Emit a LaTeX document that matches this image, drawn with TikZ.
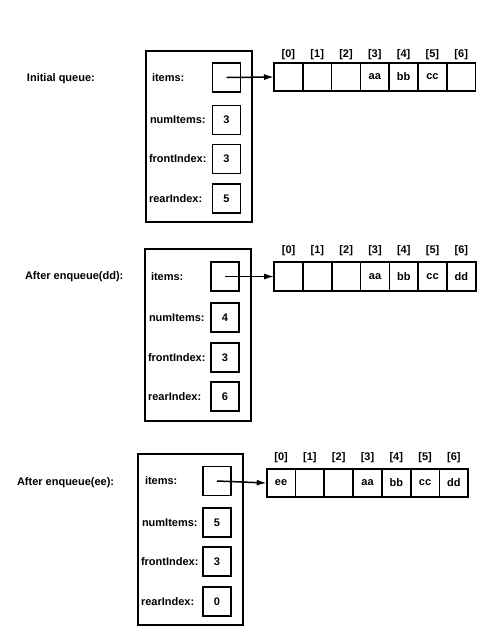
\documentclass[tikz,border=0pt]{standalone}
\usepackage{fontspec}
\setmainfont{Liberation Sans}
\usetikzlibrary{positioning,arrows.meta}
\begin{document}
\begin{tikzpicture}[x=1pt,y=1pt]
		\tikzstyle{every node}+=[inner sep=0pt, outer sep=0pt, font=\bfseries\fontsize{11}{13}\selectfont]
		\tikzstyle{frame}=[draw, line width=1.9pt]
		\tikzstyle{field}=[draw, line width=1.7pt, minimum width=28pt, minimum height=29pt]
		\tikzstyle{cell}=[draw, line width=1.7pt, minimum width=28.8pt, minimum height=28.5pt]
		\tikzstyle{ptr}=[line width=1.5pt, -{Latex[length=10pt,width=6pt]}]
		\useasboundingbox (0,0) rectangle (496,-641);
		% initial queue
		\node [anchor=west] (q1title) at (27,-79) {Initial queue:};
		\node [frame, minimum width=106pt, minimum height=171pt] (q1frame) at (199,-136.5) {};
		\node [field] (q1items) at (226.5,-77.5) {};
		\node [field] (q1num) at (226.5,-120) {3};
		\node [field] (q1front) at (226.5,-159) {3};
		\node [field] (q1rear) at (226.5,-198.5) {5};
		\node [anchor=west] (q1itemsl) at (152,-77.5) {items:};
		\node [anchor=west] (q1numl) at (150,-120) {numItems:};
		\node [anchor=west] (q1frontl) at (149,-159) {frontIndex:};
		\node [anchor=west] (q1rearl) at (149,-198.5) {rearIndex:};
		\node [cell] (q1c0) at (288.4,-77) {};
		\node [cell, right=0pt of q1c0] (q1c1) {};
		\node [cell, right=0pt of q1c1] (q1c2) {};
		\node [cell, right=0pt of q1c2] (q1c3) {aa};
		\node [cell, right=0pt of q1c3] (q1c4) {bb};
		\node [cell, right=0pt of q1c4] (q1c5) {cc};
		\node [cell, right=0pt of q1c5] (q1c6) {};
		\node [above=3pt of q1c0] (q1i0) {[0]};
		\node [above=3pt of q1c1] (q1i1) {[1]};
		\node [above=3pt of q1c2] (q1i2) {[2]};
		\node [above=3pt of q1c3] (q1i3) {[3]};
		\node [above=3pt of q1c4] (q1i4) {[4]};
		\node [above=3pt of q1c5] (q1i5) {[5]};
		\node [above=3pt of q1c6] (q1i6) {[6]};
		\draw [ptr] (q1items.center) -- (q1c0.west);
		% after enqueue(dd)
		\node [anchor=west] (q2title) at (25,-277) {After enqueue(dd):};
		\node [frame, minimum width=106pt, minimum height=172pt] (q2frame) at (198,-335) {};
		\node [field] (q2items) at (225,-276.5) {};
		\node [field] (q2num) at (225,-317.5) {4};
		\node [field] (q2front) at (225,-357.5) {3};
		\node [field] (q2rear) at (225,-396.5) {6};
		\node [anchor=west] (q2itemsl) at (151,-276.5) {items:};
		\node [anchor=west] (q2numl) at (149,-317.5) {numItems:};
		\node [anchor=west] (q2frontl) at (148,-357.5) {frontIndex:};
		\node [anchor=west] (q2rearl) at (148,-396.5) {rearIndex:};
		\node [cell] (q2c0) at (288.6,-276.5) {};
		\node [cell, right=0pt of q2c0] (q2c1) {};
		\node [cell, right=0pt of q2c1] (q2c2) {};
		\node [cell, right=0pt of q2c2] (q2c3) {aa};
		\node [cell, right=0pt of q2c3] (q2c4) {bb};
		\node [cell, right=0pt of q2c4] (q2c5) {cc};
		\node [cell, right=0pt of q2c5] (q2c6) {dd};
		\node [above=6pt of q2c0] (q2i0) {[0]};
		\node [above=6pt of q2c1] (q2i1) {[1]};
		\node [above=6pt of q2c2] (q2i2) {[2]};
		\node [above=6pt of q2c3] (q2i3) {[3]};
		\node [above=6pt of q2c4] (q2i4) {[4]};
		\node [above=6pt of q2c5] (q2i5) {[5]};
		\node [above=6pt of q2c6] (q2i6) {[6]};
		\draw [ptr] (q2items.center) -- (q2c0.west);
		% after enqueue(ee)
		\node [anchor=west] (q3title) at (17,-483) {After enqueue(ee):};
		\node [frame, minimum width=105pt, minimum height=171pt] (q3frame) at (190.5,-539.5) {};
		\node [field] (q3items) at (217,-481) {};
		\node [field] (q3num) at (217,-522.5) {5};
		\node [field] (q3front) at (217,-561.5) {3};
		\node [field] (q3rear) at (217,-601.5) {0};
		\node [anchor=west] (q3itemsl) at (145,-481) {items:};
		\node [anchor=west] (q3numl) at (142,-522.5) {numItems:};
		\node [anchor=west] (q3frontl) at (141,-561.5) {frontIndex:};
		\node [anchor=west] (q3rearl) at (141,-601.5) {rearIndex:};
		\node [cell] (q3c0) at (281.1,-483) {ee};
		\node [cell, right=0pt of q3c0] (q3c1) {};
		\node [cell, right=0pt of q3c1] (q3c2) {};
		\node [cell, right=0pt of q3c2] (q3c3) {aa};
		\node [cell, right=0pt of q3c3] (q3c4) {bb};
		\node [cell, right=0pt of q3c4] (q3c5) {cc};
		\node [cell, right=0pt of q3c5] (q3c6) {dd};
		\node [above=6pt of q3c0] (q3i0) {[0]};
		\node [above=6pt of q3c1] (q3i1) {[1]};
		\node [above=6pt of q3c2] (q3i2) {[2]};
		\node [above=6pt of q3c3] (q3i3) {[3]};
		\node [above=6pt of q3c4] (q3i4) {[4]};
		\node [above=6pt of q3c5] (q3i5) {[5]};
		\node [above=6pt of q3c6] (q3i6) {[6]};
		\draw [ptr] (q3items.center) -- (q3c0.west);
\end{tikzpicture}
\end{document}
